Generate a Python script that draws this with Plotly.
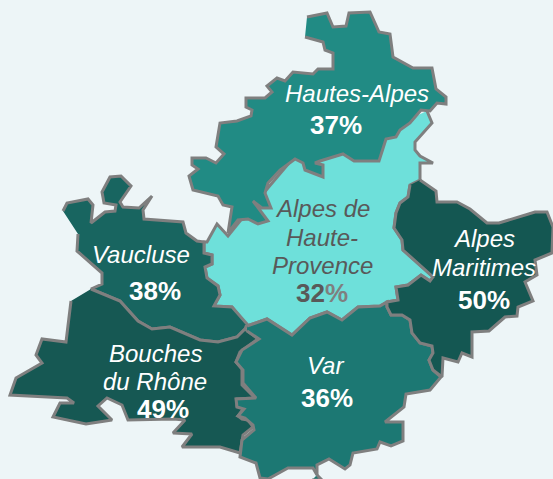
import plotly.graph_objects as go

BG = "#EDF5F7"
EDGE = "#7F7F7F"

hautes_alpes_x = [307,327,333,346,349,370,379,390,393,413,432,436,446,446,437,430,421,410,400,396,386,379,354,343,320,315,323,323,305,303,295,280,268,265,271,262,253,268,258,248,238,228,232,223,218,193,189,198,192,192,206,216,224,216,220,237,251,252,246,246,265,272,267,277,285,293,313,318,333,333,325,323,305]
hautes_alpes_y = [17,13,27,26,13,12,32,34,57,68,68,89,97,104,103,111,110,123,130,137,139,161,161,154,161,163,165,177,170,163,159,170,183,193,208,208,201,221,224,219,220,233,207,205,196,190,176,169,165,158,158,163,154,147,123,121,116,110,107,98,98,92,86,78,81,72,74,69,69,53,50,42,37]

alpes_hp_x = [427,432,415,415,420,433,420,420,410,408,400,396,394,402,403,433,430,421,408,396,398,387,380,358,342,327,310,292,267,247,232,214,220,218,207,205,212,212,204,204,207,217,228,240,300,340]
alpes_hp_y = [111,123,142,150,156,163,163,180,185,197,203,213,228,240,250,277,281,275,285,287,300,302,306,307,320,312,318,335,319,326,307,306,295,286,278,267,264,255,253,242,242,224,236,221,150,150]

vaucluse_x = [63,67,88,93,91,105,115,116,104,102,110,121,131,120,123,139,152,143,144,183,186,197,204,204,212,212,205,207,218,220,214,232,247,245,237,218,200,170,152,138,120,91,102,102,77,78]
vaucluse_y = [211,203,199,205,223,212,211,205,203,192,177,176,186,202,207,208,196,210,219,222,233,241,242,253,255,264,267,278,286,295,306,307,324,329,337,342,340,327,329,321,301,289,284,273,251,234]

bouches_x = [91,120,138,152,170,200,218,237,245,258,240,236,242,242,255,237,237,244,238,242,248,253,243,240,220,182,192,173,185,173,128,122,107,98,112,86,53,60,74,67,10,16,42,36,42,66,71]
bouches_y = [289,301,321,329,327,340,342,337,329,339,352,362,369,385,398,399,406,408,416,419,420,427,435,453,447,447,434,433,420,419,420,405,398,406,420,424,417,403,403,398,395,378,363,355,339,342,301]

var_x = [247,267,292,310,327,342,358,380,387,387,391,402,410,412,420,432,433,429,433,441,430,406,404,385,403,403,391,380,377,353,350,345,329,317,317,313,288,268,260,256,240,242,254,253,245,238,244,237,236,256,243,243,236,242,259,247]
var_y = [326,319,335,318,312,320,307,306,302,307,315,315,320,333,343,346,353,360,370,377,390,394,407,422,422,441,446,442,449,453,465,469,459,465,475,468,468,479,478,463,457,440,430,425,418,416,409,407,399,398,383,370,362,350,339,331]

maritimes_x = [420,436,437,457,470,487,499,535,547,553,552,535,537,525,533,518,517,505,489,472,472,462,458,443,442,433,429,433,432,420,412,410,402,391,387,387,398,396,408,421,430,433,403,402,394,396,400,408,410]
maritimes_y = [180,191,202,202,209,223,223,212,212,227,253,260,275,282,301,307,316,317,331,332,357,353,362,358,377,370,360,353,346,343,333,320,315,315,307,302,300,287,285,275,281,277,250,240,228,213,203,197,185]

islet_x = [317,322,312]
islet_y = [475,480,480]

regions = [
    ("Alpes de Haute-Provence", alpes_hp_x, alpes_hp_y, "#6EE0DA"),
    ("Hautes-Alpes", hautes_alpes_x, hautes_alpes_y, "#218B84"),
    ("Vaucluse", vaucluse_x, vaucluse_y, "#186560"),
    ("Bouches du Rhône", bouches_x, bouches_y, "#165853"),
    ("Var", var_x, var_y, "#1C7873"),
    ("Alpes Maritimes", maritimes_x, maritimes_y, "#145752"),
    ("Var", islet_x, islet_y, "#1C7873"),
]

# text, x, y, size, bold, colour
labels = [
    ("Hautes-Alpes", 357, 93, 24, False, "white"),
    ("37%", 336, 125, 26, True, "white"),
    ("Alpes de", 322, 208, 24, False, "#595959"),
    ("Haute-", 322, 237, 24, False, "#595959"),
    ("Provence", 322, 265, 24, False, "#595959"),
    ('32<span style="color:#7F7F7F">%</span>', 322, 293, 26, True, "#595959"),
    ("Vaucluse", 141, 254, 24, False, "white"),
    ("38%", 155, 291, 26, True, "white"),
    ("Bouches", 155, 353, 24, False, "white"),
    ("du Rhône", 155, 381, 24, False, "white"),
    ("49%", 163, 409, 26, True, "white"),
    ("Var", 325, 365, 24, False, "white"),
    ("36%", 327, 398, 26, True, "white"),
    ("Alpes", 484, 238, 24, False, "white"),
    ("Maritimes", 484, 267, 24, False, "white"),
    ("50%", 484, 300, 26, True, "white"),
]

fig = go.Figure()
for name, xs, ys, colour in regions:
    fig.add_trace(go.Scatter(
        x=xs, y=ys, name=name, mode="lines", fill="toself", fillcolor=colour,
        line=dict(color=EDGE, width=3), hoverinfo="name", showlegend=False,
    ))

for text, x, y, size, bold, colour in labels:
    fig.add_annotation(
        x=x, y=y, xref="x", yref="y", showarrow=False, xanchor="center", yanchor="middle",
        text=f"<b>{text}</b>" if bold else f"<i>{text}</i>",
        font=dict(family="Liberation Sans, Arial, sans-serif", size=size, color=colour),
    )

fig.update_layout(
    width=553, height=479, margin=dict(l=0, r=0, t=0, b=0),
    paper_bgcolor=BG, plot_bgcolor=BG, showlegend=False,
    xaxis=dict(range=[0, 553], visible=False, fixedrange=True),
    yaxis=dict(range=[479, 0], visible=False, fixedrange=True),
)
fig.write_html("out.html", post_script="document.body.style.margin='0';document.body.style.background='#EDF5F7';",
               config={"displayModeBar": False})
